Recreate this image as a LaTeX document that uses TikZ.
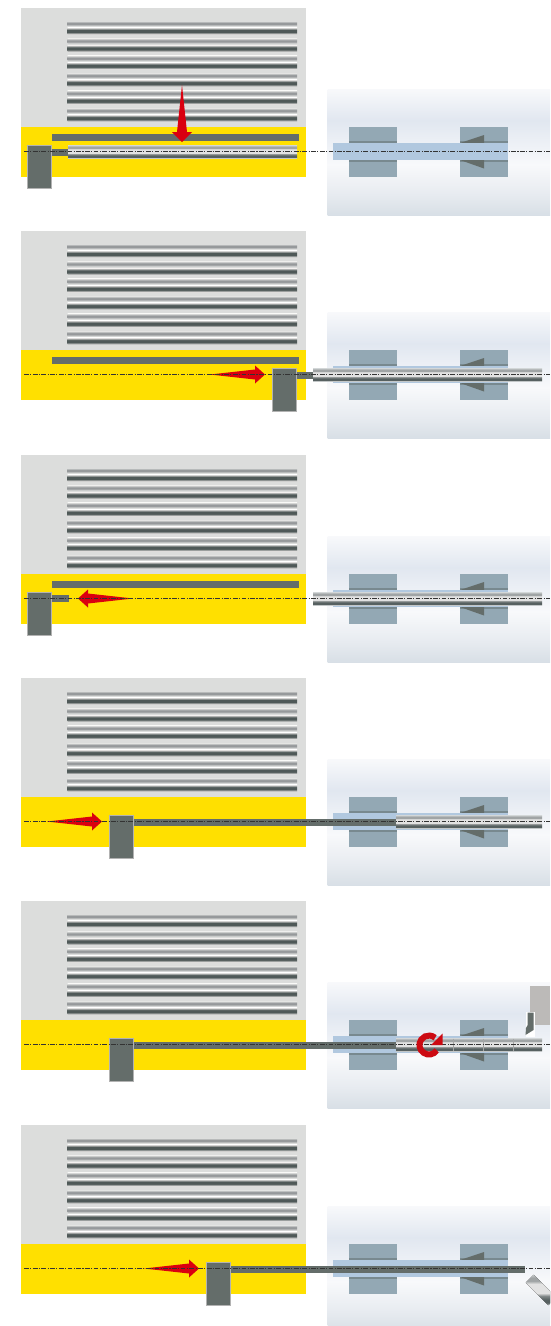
\documentclass[tikz,border=0pt]{standalone}
\definecolor{rpa}{HTML}{F8F9FB}\definecolor{rpb}{HTML}{E1E7F0}\definecolor{rpc}{HTML}{F8F9FB}\definecolor{rpd}{HTML}{E7EBF0}\definecolor{rpe}{HTML}{D8DFE6}
\definecolor{sa}{HTML}{C4C8C9}\definecolor{sb}{HTML}{A0A4A5}\definecolor{sc}{HTML}{E2E2E2}\definecolor{sd}{HTML}{808686}\definecolor{se}{HTML}{566060}
\definecolor{grip}{HTML}{646D6A}\definecolor{chuck}{HTML}{93A8B4}\definecolor{chuckd}{HTML}{78898F}\definecolor{blu}{HTML}{B1C8DF}
\definecolor{yel}{HTML}{FFE000}\definecolor{mag}{HTML}{DCDDDC}\definecolor{redd}{HTML}{DA0010}\definecolor{crd}{HTML}{CC0A12}
\definecolor{toolblock}{HTML}{BCBAB8}\definecolor{lna}{HTML}{96999B}\definecolor{lnb}{HTML}{4F5958}\definecolor{halo}{HTML}{E6E4E3}
% a shape's box covers 25bp (bottom) to 75bp (top) of a shading
\pgfdeclareverticalshading{rpanel}{100bp}{color(0bp)=(rpe); color(25bp)=(rpe); color(33bp)=(rpd); color(45bp)=(rpc); color(62.5bp)=(rpb); color(75bp)=(rpa); color(100bp)=(rpa)}
\pgfdeclareverticalshading{stockshade}{100bp}{color(0bp)=(sa); color(25bp)=(sa); color(29bp)=(se); color(34bp)=(se); color(40bp)=(sd); color(45bp)=(sc); color(60bp)=(sc); color(65bp)=(sb); color(70bp)=(sb); color(75bp)=(sa); color(100bp)=(sa)}
\pgfdeclareverticalshading{softa}{100bp}{color(0bp)=(mag); color(25bp)=(mag); color(44bp)=(lna); color(56bp)=(lna); color(75bp)=(mag); color(100bp)=(mag)}
\pgfdeclareverticalshading{softb}{100bp}{color(0bp)=(halo); color(25bp)=(halo); color(42bp)=(lnb); color(58bp)=(lnb); color(75bp)=(halo); color(100bp)=(halo)}
\tikzset{
  gripbox/.style={fill=grip,draw=gray!60,line width=.3pt},
  greybar/.style={fill=grip},
  redarrow/.style={fill=redd},
  jawpart/.style={fill=chuck},
  wedge/.style={fill=grip},
  stockbar/.style={shading=stockshade},
  axisline/.style={line width=.85pt,black!80,dash pattern=on 4.8pt off 1.4pt on 1.1pt off 1.4pt},
}
\newcommand\Stock[2]{\fill[stockbar] (#1,137.5) rectangle (#2,150);}
\newcommand\Grip[1]{\fill[greybar] (#1-.5,140.5) rectangle ++(24,7);\fill[gripbox] (#1-.5,137.5) rectangle ++(24,43);}
\newcommand\Rail{\fill[greybar] (52,126) rectangle (299,133);}
\newcommand\ArrowR[2]{\fill[redarrow] (#1,143.5) -- (#2-10,138.5) -- (#2-10,134.5) -- (#2,143.5) -- (#2-10,152.5) -- (#2-10,148.5) -- cycle;}
\newcommand\ArrowL[2]{\fill[redarrow] (#1,143.5) -- (#2+10,138.5) -- (#2+10,134.5) -- (#2,143.5) -- (#2+10,152.5) -- (#2+10,148.5) -- cycle;}
\newcommand\Pan[2]{\begin{scope}[shift={(0,#1)}]
  \fill[mag] (20.5,0) rectangle (305.5,119);
  \foreach \a in {15.5,33,50.3,67.7,85.3,102.7}{
    \fill[shading=softa] (67.5,\a-2.5) rectangle (297,\a+2.5);
    \fill[shading=softb] (67.5,\a+4.2) rectangle (297,\a+10.8);
  }
  \fill[yel] (20.5,119) rectangle (305.5,169);
  \fill[shading=rpanel] (327.5,81) rectangle (550,207);
  \foreach \x in {349,460}{
    \fill[jawpart] (\x,119) rectangle ++(48,50);
    \fill[chuckd] (\x,133) rectangle ++(48,21);
  }
  \fill[wedge] (460,135) -- (484,127) -- (484,135) -- cycle;
  \fill[wedge] (460,152) -- (484,152) -- (484,160.5) -- cycle;
  \fill[blu] (333,135) rectangle (508,152);
  #2
  \draw[axisline] (24,143.5) -- (550,143.5);
\end{scope}}
\begin{document}
\begin{tikzpicture}[x=1pt,y=-1pt]
\useasboundingbox (0,0) rectangle (550,1326);
\clip (0,0) rectangle (550,1326);
\Pan{8}{\Rail
  \fill[sc] (68,136.5) rectangle (297,151);
  \Stock{68}{297}
  \Grip{28}
  \fill[greybar] (52,140.5) rectangle (68,147.5);
  \fill[redarrow] (182,77) -- (187,124) -- (192,124) -- (182,134) -- (172,124) -- (177,124) -- cycle;}
\Pan{231}{\Rail
  \Stock{313}{542}
  \fill[greybar] (297,141) rectangle (313,148);
  \Grip{273}
  \ArrowR{210}{265}}
\Pan{455}{\Rail
  \Stock{313}{542}
  \Grip{28}
  \fill[greybar] (52,139.5) rectangle (69,147);
  \ArrowL{133}{78}}
\Pan{678}{
  \Stock{396}{542}
  \fill[greybar] (134,140.5) rectangle (396,147.5);
  \Grip{110}
  \ArrowR{47}{102}}
\Pan{901}{
  \Stock{396}{542}
  \foreach \x in {453,483,513}{\draw[gray!70,line width=.3pt] (\x,137.5) -- (\x,150);}
  \fill[greybar] (134,140.5) rectangle (396,147.5);
  \Grip{110}
  \fill[toolblock] (530,85) rectangle (550,124);
  \fill[white] (526,110.5) rectangle (535,135.5);
  \fill[grip] (527.7,111.7) -- (533.5,111.7) -- (533.5,129) -- (525.5,134) -- (526,127) -- (527.7,124) -- cycle;}
\Pan{1125}{
  \fill[greybar] (231,140.5) rectangle (525,147.5);
  \Grip{207}
  \ArrowR{144}{199}
  \begin{scope}[shift={(541,165)},rotate=-45]
    \fill[stockbar] (-16,-5.5) rectangle (16,5.5);
  \end{scope}}
\draw[crd,line width=6pt] (429,1045) ++(35:9.5) arc[start angle=35,end angle=310,radius=9.5];
\fill[crd] (442.5,1033.5) -- (442.5,1045) -- (431,1045) -- cycle;
\end{tikzpicture}
\end{document}
